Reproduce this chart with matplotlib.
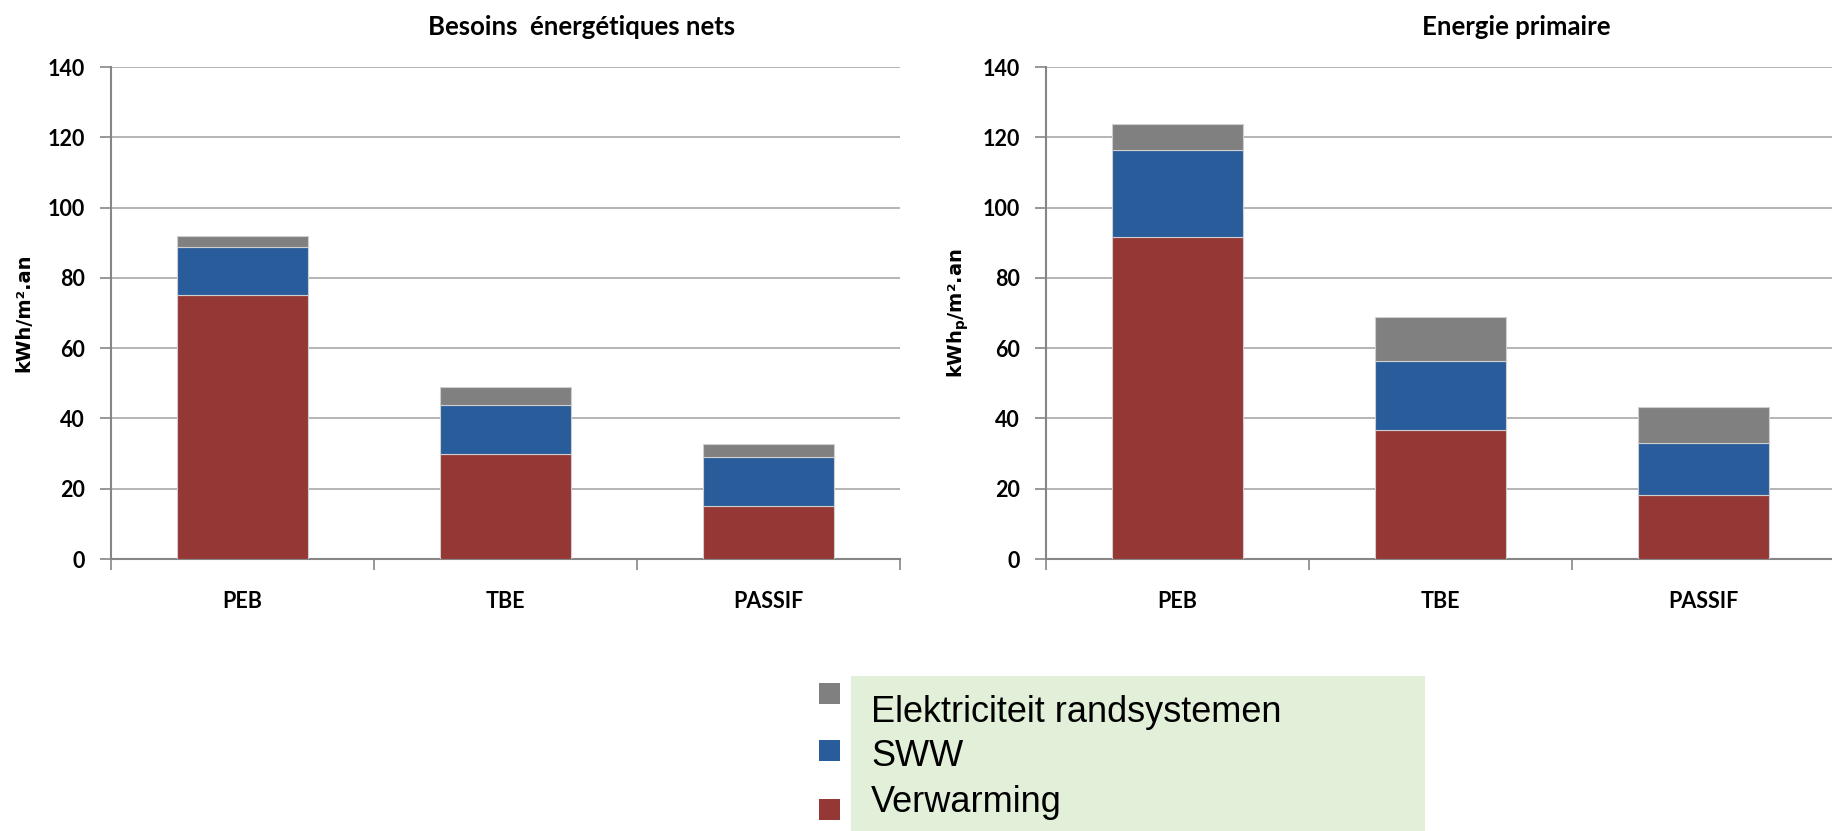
import matplotlib
matplotlib.use("Agg")
import matplotlib.pyplot as plt
from matplotlib.patches import Rectangle

# --- data -------------------------------------------------------------
categories = ["PEB", "TBE", "PASSIF"]

# Besoins énergétiques nets (kWh/m².an)
net_verwarming = [75.0, 30.0, 15.0]
net_sww = [13.8, 13.8, 14.0]
net_elektriciteit = [3.1, 5.2, 3.8]

# Energie primaire (kWh_p/m².an)
prim_verwarming = [91.7, 36.7, 18.2]
prim_sww = [24.7, 19.6, 14.9]
prim_elektriciteit = [7.4, 12.6, 10.2]

series_names = ["Elektriciteit randsystemen", "SWW", "Verwarming"]
yticks = [0, 20, 40, 60, 80, 100, 120, 140]

# --- style ------------------------------------------------------------
C_RED = "#953735"
C_BLUE = "#285c9a"
C_GRAY = "#808080"
GRID = "#a8a8a8"
AXIS = "#868686"
TICK_FONT = ["Lato", "DejaVu Sans"]

plt.rcParams["mathtext.fontset"] = "dejavusans"

W, H = 1832, 831
fig = plt.figure(figsize=(W / 100, H / 100), dpi=100)


def px_axes(x0, y0, x1, y1):
    return fig.add_axes([x0 / W, 1 - y1 / H, (x1 - x0) / W, (y1 - y0) / H])


def stacked_panel(ax, red, blue, gray, ylabel):
    x = list(range(len(categories)))
    kw = dict(width=0.5, edgecolor="#cfcfcf", linewidth=0.8, zorder=3)
    ax.bar(x, red, color=C_RED, **kw)
    ax.bar(x, blue, bottom=red, color=C_BLUE, **kw)
    tops = [r + b for r, b in zip(red, blue)]
    ax.bar(x, gray, bottom=tops, color=C_GRAY, **kw)

    ax.set_xlim(-0.5, len(categories) - 0.5)
    ax.set_ylim(0, 140)
    ax.set_yticks(yticks)
    ax.set_yticklabels([str(v) for v in yticks])
    ax.yaxis.grid(True, color=GRID, linewidth=1.2, zorder=0)
    ax.set_axisbelow(True)

    # category boundaries carry the tick marks, names sit between them
    ax.set_xticks([i - 0.5 for i in range(len(categories) + 1)])
    ax.set_xticklabels([])
    ax.set_xticks(x, minor=True)
    ax.set_xticklabels(categories, minor=True)
    ax.tick_params(axis="x", which="major", length=8, width=1.2,
                   color=AXIS, direction="out")
    ax.tick_params(axis="x", which="minor", length=0, pad=23)
    ax.tick_params(axis="y", length=8, width=1.2, color=AXIS,
                   direction="out", pad=11)

    for lab in ax.get_xticklabels(minor=True) + ax.get_yticklabels():
        lab.set_fontfamily(TICK_FONT)
        lab.set_fontweight("bold")
        lab.set_fontsize(15.5)

    for side in ("top", "right"):
        ax.spines[side].set_visible(False)
    for side in ("left", "bottom"):
        ax.spines[side].set_color(AXIS)
        ax.spines[side].set_linewidth(1.5)

    ax.set_ylabel(ylabel, fontfamily="DejaVu Sans", fontweight="bold",
                  fontsize=14)
    ax.yaxis.label.set_va("center")
    ax.yaxis.set_label_coords(-87.5 / 789, 0.5)


ax1 = px_axes(111, 67, 900, 559)
stacked_panel(ax1, net_verwarming, net_sww, net_elektriciteit,
              "kWh/m².an")

ax2 = px_axes(1046, 67, 1835, 559)
stacked_panel(ax2, prim_verwarming, prim_sww, prim_elektriciteit,
              r"kWh$_\mathbf{p}$/m².an")

# panel titles
fig.text(582 / W, 1 - 35 / H, "Besoins  énergétiques nets",
         ha="center", va="baseline", fontfamily=TICK_FONT,
         fontweight="bold", fontsize=18.5)
fig.text(1516 / W, 1 - 35 / H, "Energie primaire",
         ha="center", va="baseline", fontfamily=TICK_FONT,
         fontweight="bold", fontsize=18.5)

# legend: colour squares beside a tinted text block
fig.patches.append(Rectangle((851 / W, 0), (1425 - 851) / W, (831 - 676) / H,
                             transform=fig.transFigure,
                             facecolor="#e2efd9", edgecolor="none",
                             zorder=0))
legend_colors = [C_GRAY, C_BLUE, C_RED]
square_tops = [683, 740, 799]
text_baselines = [721.5, 766.5, 811.5]
for name, col, top, base in zip(series_names, legend_colors,
                                square_tops, text_baselines):
    fig.patches.append(Rectangle((819 / W, 1 - (top + 20.5) / H),
                                 21 / W, 20.5 / H,
                                 transform=fig.transFigure,
                                 facecolor=col, edgecolor="none"))
    fig.text(871 / W, 1 - base / H, name, ha="left", va="baseline",
             fontfamily="Liberation Sans", fontsize=26, color="black")

fig.savefig("out.png", dpi=100)
